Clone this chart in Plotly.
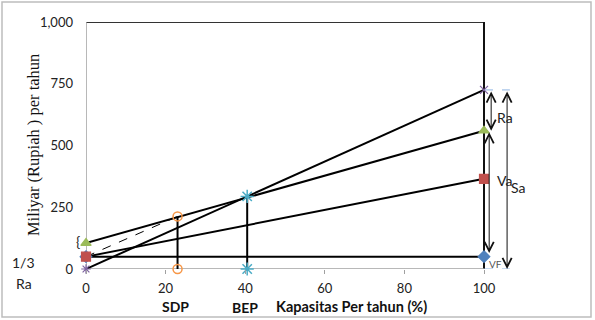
import plotly.graph_objects as go

# Data
cap = [0, 100]                      # capacity % endpoints
revenue = [0, 725]                  # Sa line
green_line = [105, 560]             # upper cost line
total_cost = [50, 365]              # Va line
fixed_cost = [50, 50]               # F line
sdp_x, sdp_y = 23, 213              # shut-down point
bep_x, bep_y = 40.5, 294            # break-even point
y_ticks = [0, 250, 500, 750, 1000]
y_ticktext = ["0", "250", "500", "750", "1,000"]
x_ticks = [0, 20, 40, 60, 80, 100]

FONT = "Lato"
XMAX = 114.07
fig = go.Figure()

def line(x, y, width=2, dash="solid", color="black"):
    fig.add_trace(go.Scatter(x=x, y=y, mode="lines", line=dict(color=color, width=width, dash=dash),
                             showlegend=False, hoverinfo="skip"))

def mark(x, y, symbol, color, size=8, lw=1.2):
    fig.add_trace(go.Scatter(x=x, y=y, mode="markers", cliponaxis=False,
                             marker=dict(symbol=symbol, color=color, size=size,
                                         line=dict(color=color, width=lw)),
                             showlegend=False, hoverinfo="skip"))

# frame
line([0, 100], [1000, 1000], width=2, color="#333")
line([100, 100], [0, 1000], width=2, color="#111")
line([0, 0], [0, 1000], width=1.5, color="#a0a0a0")
line([0, 100], [0, 0], width=1.5, color="#a0a0a0")

# main lines
line(cap, revenue)
line(cap, green_line)
line(cap, total_cost)
line(cap, fixed_cost)
line([0, sdp_x], [fixed_cost[0], sdp_y], width=1, dash="dash")
line([sdp_x, sdp_x], [sdp_y, 0], width=2)
line([bep_x, bep_x], [bep_y, 0], width=2)

# dashed light-blue guides right of x=100
line([100, 106.5], [revenue[1], revenue[1]], width=1, dash="dash", color="#8eb4e3")
line([100, 106.5], [0, 0], width=1, dash="dash", color="#8eb4e3")

# markers
mark([0], [fixed_cost[0]], "diamond", "#4f81bd", 9)
mark([100], [fixed_cost[1]], "diamond", "#4f81bd", 9)
mark([0, 100], total_cost, "square", "#c0504d", 9)
mark([0, 100], green_line, "triangle-up", "#9bbb59", 9)
mark([0], [revenue[0]], "asterisk-open", "#7f63a1", 8)
mark([100], [revenue[1]], "x-thin-open", "#7f63a1", 8)
mark([sdp_x, sdp_x], [sdp_y, 0], "circle-open", "#f79646", 9, 1.5)
mark([bep_x, bep_x], [bep_y, 0], "asterisk-open", "#4bacc6", 11, 1.5)

def arrow(x, y0, y1):
    fig.add_annotation(x=x, y=y1, ax=x, ay=y0, xref="x", yref="y", axref="x", ayref="y",
                       text="", showarrow=True, arrowhead=5, startarrowhead=5,
                       arrowside="end+start", arrowsize=1.8, arrowwidth=1, arrowcolor="#111")

arrow(101.8, revenue[1], green_line[1])
arrow(101.3, green_line[1], 65)
arrow(105.8, revenue[1], 0)

def label(text, x, y, size=13, ref="data", bold=False, color="#222", family=FONT, angle=0):
    if ref == "data":
        xr, yr = "x", "y"
    else:
        xr, yr = "paper", "paper"
        x, y = x / XMAX, y / 1000
    fig.add_annotation(x=x, y=y, xref=xr, yref=yr, text=f"<b>{text}</b>" if bold else text,
                       showarrow=False, font=dict(family=family, size=size, color=color),
                       textangle=angle, xanchor="center", yanchor="middle")

label("Ra", 105.4, 615, size=14)
label("Va", 105.2, 358, size=14)
label("Sa", 108.6, 332, size=14)
label("VF", 103, 22, size=10, color="#555")
label("{", -2.1, 112, size=14, ref="paper")
label("1/3", -15.6, 28, size=14, ref="paper")
label("Ra", -15.6, -57, size=14, ref="paper")
label("SDP", 22.6, -150, size=14, bold=True, color="#111", ref="paper")
label("BEP", 40, -157, size=14, bold=True, color="#111", ref="paper")
label("Kapasitas Per tahun (%)", 66.6, -153, size=14.5, bold=True, color="#111", ref="paper")
label("Miliyar (Rupiah ) per tahun", -13.3, 502, size=16.5, family="Liberation Serif", angle=-90,
      color="#111", ref="paper")

# outer gray border
fig.add_shape(type="rect", xref="paper", yref="paper",
              x0=(2 - 86) / 454, x1=(591 - 86) / 454, y0=(269 - 317) / 247, y1=(269 - 2) / 247,
              line=dict(color="#bdbdbd", width=1.5))

fig.update_layout(
    width=595, height=320, margin=dict(l=86, r=55, t=22, b=51),
    paper_bgcolor="white", plot_bgcolor="white",
    xaxis=dict(range=[0, XMAX], tickvals=x_ticks, ticks="outside", ticklen=4, tickcolor="#a0a0a0",
               showgrid=False, zeroline=False, showline=False, ticklabelstandoff=3,
               tickfont=dict(family=FONT, size=13, color="#222")),
    yaxis=dict(range=[0, 1000], tickvals=y_ticks, ticktext=y_ticktext, ticks="",
               showgrid=False, zeroline=False, showline=False, ticklabelstandoff=12,
               tickfont=dict(family=FONT, size=13, color="#222")),
)

fig.write_html("out.html")
